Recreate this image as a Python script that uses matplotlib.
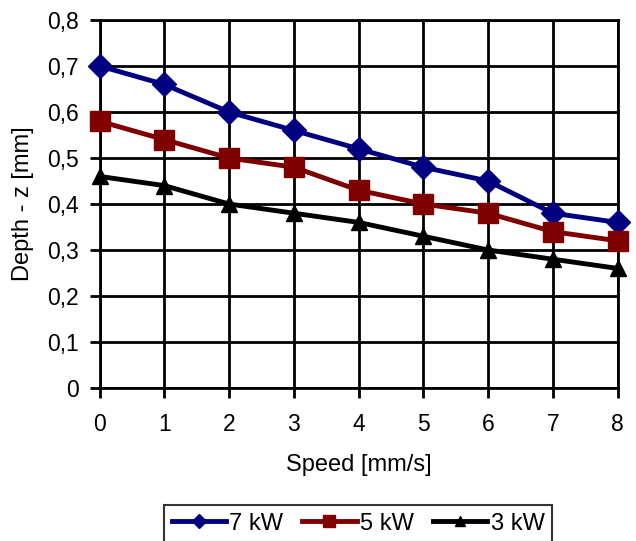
import matplotlib
matplotlib.use("Agg")
import matplotlib.pyplot as plt
from matplotlib.ticker import FuncFormatter, MultipleLocator

plt.rcParams['font.family'] = ['Liberation Sans', 'DejaVu Sans']

speed = [0, 1, 2, 3, 4, 5, 6, 7, 8]
depth_7kw = [0.70, 0.66, 0.60, 0.56, 0.52, 0.48, 0.45, 0.38, 0.36]
depth_5kw = [0.58, 0.54, 0.50, 0.48, 0.43, 0.40, 0.38, 0.34, 0.32]
depth_3kw = [0.46, 0.44, 0.40, 0.38, 0.36, 0.33, 0.30, 0.28, 0.26]
labels = ["7 kW", "5 kW", "3 kW"]

fs = 16.5
fig = plt.figure(figsize=(6.36, 5.41), dpi=100)
ax = fig.add_axes([99.5/636, 1-388/541, 518/636, 368/541])

ax.plot(speed, depth_7kw, color='#000080', lw=3.5, marker='D', ms=12, label=labels[0], zorder=5, clip_on=False)
ax.plot(speed, depth_5kw, color='#800000', lw=3.5, marker='s', ms=14, label=labels[1], zorder=5, clip_on=False)
ax.plot(speed, depth_3kw, color='#000000', lw=3.5, marker='^', ms=11.5, label=labels[2], zorder=5, clip_on=False)

ax.set_xlim(0, 8)
ax.set_ylim(0, 0.8)
ax.xaxis.set_major_locator(MultipleLocator(1))
ax.yaxis.set_major_locator(MultipleLocator(0.1))
ax.yaxis.set_major_formatter(FuncFormatter(lambda v, p: ("%g" % round(v, 2)).replace('.', ',')))
ax.grid(True, color='black', lw=2)
ax.set_axisbelow(True)
for s in ax.spines.values():
    s.set_linewidth(2)
ax.tick_params(axis='both', labelsize=fs, width=2, length=7, color='black')
ax.tick_params(axis='x', pad=11)
ax.tick_params(axis='y', pad=8)
ax.set_xlabel("Speed [mm/s]", fontsize=fs + 0.5, labelpad=13)
ax.set_ylabel("Depth - z [mm]", fontsize=fs + 0.5, labelpad=9)

leg = fig.legend(loc='upper center', bbox_to_anchor=(0.563, 0.0875), ncol=3, fontsize=fs + 0.5,
                 frameon=True, fancybox=False, edgecolor='black', handlelength=2.3,
                 columnspacing=0.8, handletextpad=0.15, borderpad=0.3, markerscale=0.6)
leg.get_frame().set_linewidth(1.5)

fig.savefig("out.png", dpi=100)
